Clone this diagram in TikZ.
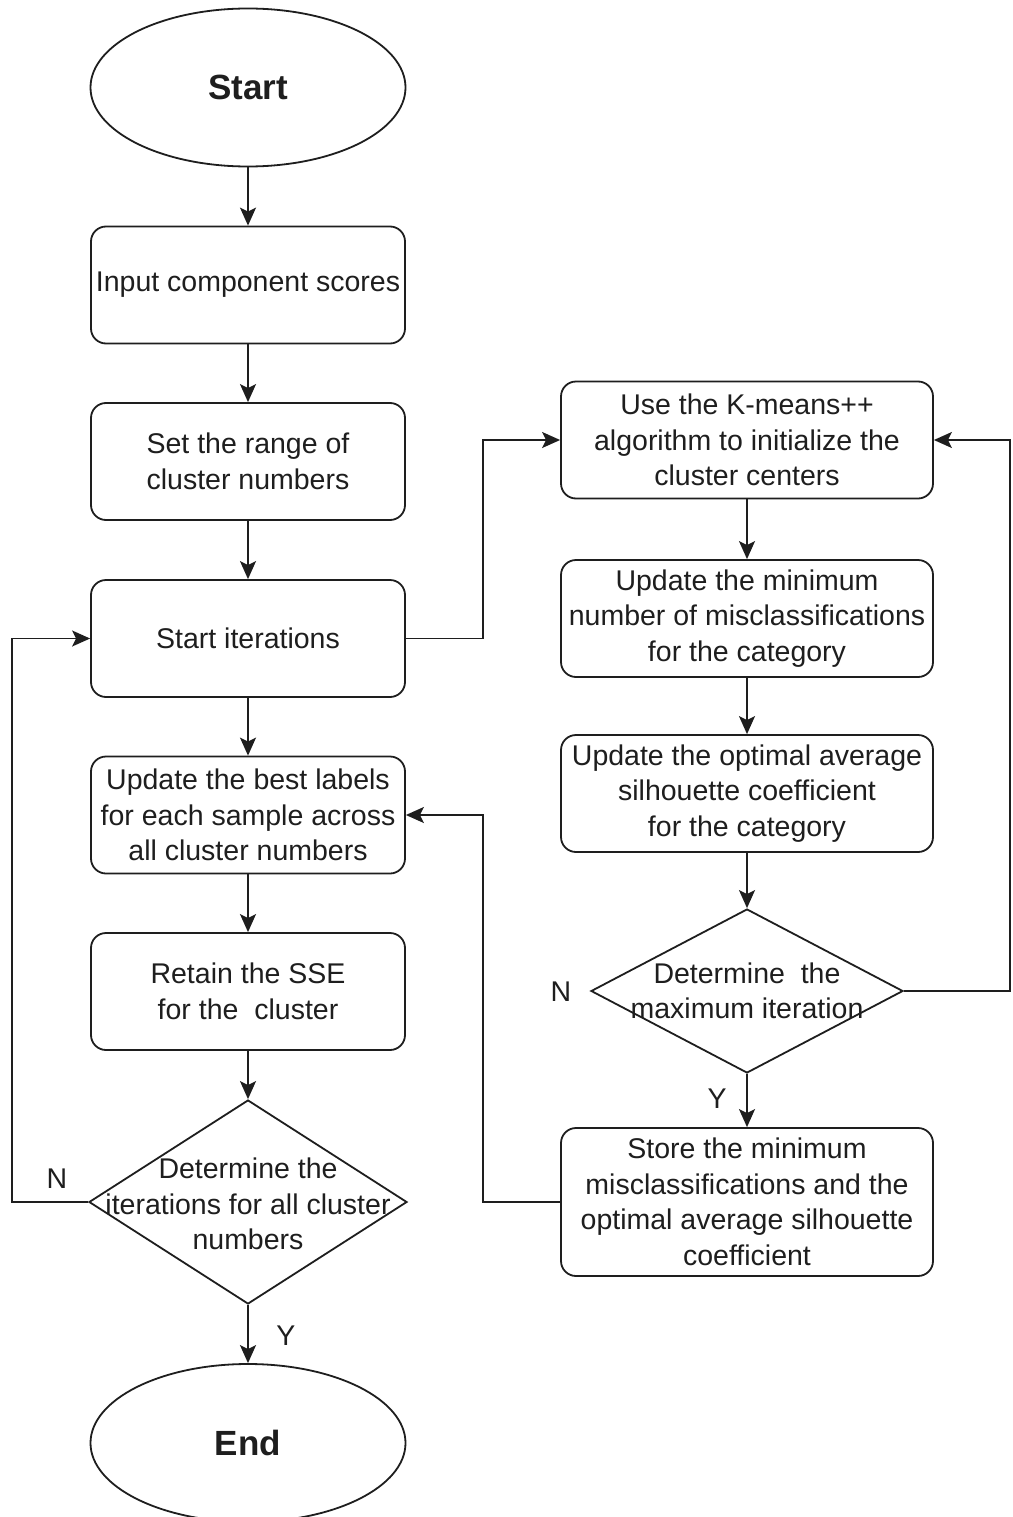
\documentclass[tikz,border=0pt]{standalone}
\usepackage{fontspec}
\setmainfont{Liberation Sans}
\usetikzlibrary{shapes.geometric,arrows.meta}
\definecolor{ink}{HTML}{1E1E1E}
\tikzset{
  txt/.style={font=\fontsize{28.5}{35.5}\selectfont, text=ink, align=center, inner sep=0pt},
  procbox/.style={txt, draw=ink, line width=1.8pt, rounded corners=15pt, minimum width=314pt, minimum height=117pt},
  rbox/.style={procbox, minimum width=372pt},
  term/.style={draw=ink, line width=1.8pt, ellipse, minimum width=315pt, minimum height=158pt, inner sep=0pt, font=\fontsize{35}{40}\selectfont\bfseries, text=ink},
  dia/.style={draw=ink, line width=1.8pt, diamond, inner sep=0pt},
  arr/.style={draw=ink, line width=1.8pt, -{Stealth[length=18pt,width=16pt,inset=4pt]}},
  lbl/.style={txt}
}
\begin{document}
\begin{tikzpicture}[x=1pt,y=-1pt]
\useasboundingbox[fill=white] (0,0) rectangle (1012,1517);
% left column
\node[term] (start) at (248,87.5) {Start};
\node[procbox] (input) at (248,285) {Input component scores};
\node[procbox] (range) at (248,461.5) {Set the range of\\cluster numbers};
\node[procbox] (iter) at (248,638.5) {Start iterations};
\node[procbox] (labels) at (248,815) {Update the best labels\\for each sample across\\all cluster numbers};
\node[procbox] (sse) at (248,991.5) {Retain the SSE\\for the\ \ cluster};
\node[dia, minimum width=318pt, minimum height=204pt] (d1) at (248,1202) {};
\node[txt] (d1t) at (248,1204) {Determine the\\iterations for all cluster\\numbers};
\node[term] (end) at (248,1443) {End};
% right column
\node[rbox] (kmeans) at (747,440) {Use the K-means++\\algorithm to initialize the\\cluster centers};
\node[rbox] (mis) at (747,618.5) {Update the minimum\\number of misclassifications\\for the category};
\node[rbox] (sil) at (747,793.5) {Update the optimal average\\silhouette coefficient\\for the category};
\node[dia, minimum width=312pt, minimum height=164pt] (d2) at (747,991) {};
\node[txt] (d2t) at (747,991) {Determine\ \ the\\maximum iteration};
\node[rbox, minimum height=148pt] (store) at (747,1202) {Store the minimum\\misclassifications and the\\optimal average silhouette\\coefficient};
% junction coordinates
\coordinate (jm) at (483,0);
\coordinate (jr) at (1010,0);
\coordinate (jl) at (12,0);
% connectors
\draw[arr] (start) -- (input);
\draw[arr] (input) -- (range);
\draw[arr] (range) -- (iter);
\draw[arr] (iter) -- (labels);
\draw[arr] (labels) -- (sse);
\draw[arr] (sse) -- (d1);
\draw[arr] (d1) -- (end);
\draw[arr] (kmeans) -- (mis);
\draw[arr] (mis) -- (sil);
\draw[arr] (sil) -- (d2);
\draw[arr] (d2) -- (store);
\draw[arr] (iter.east) -- (iter.east -| jm) |- (kmeans.west);
\draw[arr] (store.west) -- (store.west -| jm) |- (labels.east);
\draw[arr] (d2.east) -- (d2.east -| jr) |- (kmeans.east);
\draw[arr] (d1.west) -- (d1.west -| jl) |- (iter.west);
% labels
\node[lbl] (n1) at (57,1179) {N};
\node[lbl] (y1) at (286,1336) {Y};
\node[lbl] (n2) at (561,992) {N};
\node[lbl] (y2) at (717,1099) {Y};
\end{tikzpicture}
\end{document}
